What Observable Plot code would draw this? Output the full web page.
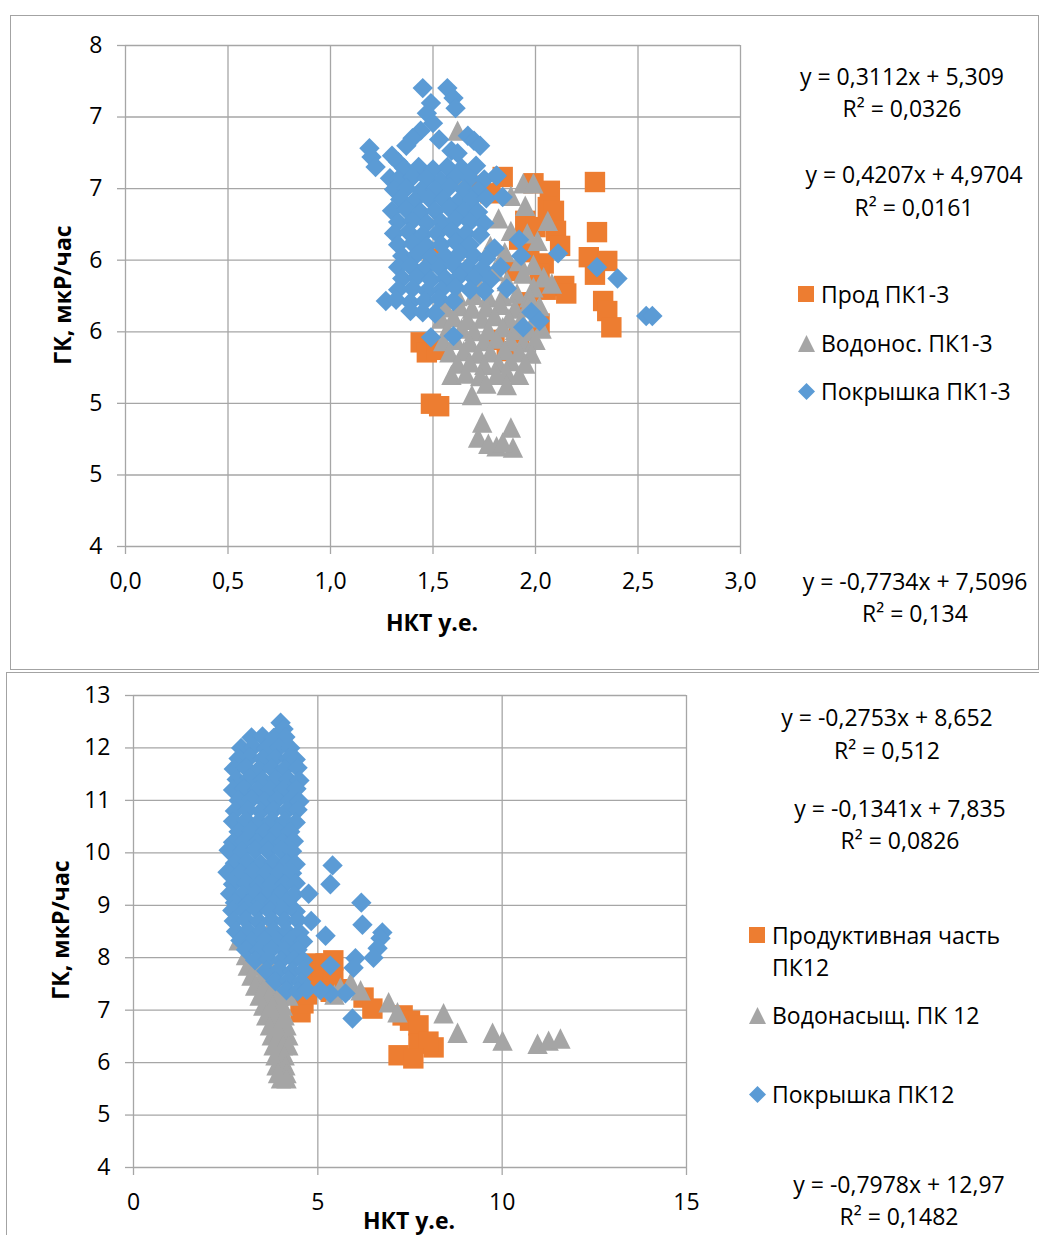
<!DOCTYPE html>
<html>
<head>
<meta charset="utf-8">
<script src="https://cdn.jsdelivr.net/npm/d3@7"></script>
<script src="https://cdn.jsdelivr.net/npm/@observablehq/plot@0.6"></script>
<style>
  body { margin: 0; background: #fff; }
  #page { position: relative; width: 1039px; height: 1235px; overflow: hidden; background: #fff;
          font-family: "Open Sans", sans-serif; color: #000; }
  .frame { position: absolute; box-sizing: border-box; border: 1.3px solid #a3a3a3; }
  .plot { position: absolute; left: 0; }
  .txt { position: absolute; font-size: 23px; line-height: 1; white-space: nowrap; }
  .ctr { transform: translate(-50%, -50%); }
  .lft { transform: translateY(-50%); }
  .ttl { font-weight: bold; }
  .rot { transform: translate(-50%, -50%) rotate(-90deg); }
  .mk { position: absolute; overflow: visible; }
</style>
</head>
<body>
<div id="page">
  <div class="frame" style="left:10px;top:15px;width:1029px;height:655px"></div>
  <div class="frame" style="left:6px;top:672px;width:1060px;height:600px"></div>
  <div class="plot" id="topPlot" style="top:0"></div>
  <div class="plot" id="botPlot" style="top:650px"></div>
</div>
<script>
// ---- Series colours (Office palette) ----
const ORANGE = "#ED7D31", GRAY = "#A5A5A5", BLUE = "#5B9BD5", GRID = "#a6a6a6";

// ---- Upper chart: ПК1-3, [НКТ, ГК] ----
const topProd = [
  [1.84,6.95],[1.99,6.90],[2.07,6.84],[2.06,6.71],[2.09,6.68],[2.10,6.52],[2.12,6.40],[2.04,6.26],
  [2.02,6.18],[2.14,6.08],[2.15,6.02],[2.02,5.78],[1.86,5.56],[2.29,6.91],[2.30,6.51],[2.26,6.31],
  [2.35,6.28],[2.29,6.17],[2.33,5.96],[2.35,5.88],[2.37,5.75],[1.73,6.88],[1.78,6.82],[1.44,5.63],
  [1.47,5.55],[1.52,5.57],[1.49,5.14],[1.53,5.12],[1.50,6.30],[1.95,6.60],[1.92,6.45],[2.00,6.55],
  [1.97,6.35],[1.90,6.20],[2.05,6.05],[1.96,5.95],[1.80,5.65],[1.92,5.70]
];
const topWater = [
  [1.62,7.32],[1.65,6.92],[1.94,6.90],[1.99,6.90],[1.88,6.80],[1.95,6.72],[2.06,6.60],[1.82,6.62],
  [1.88,6.52],[1.96,6.50],[2.01,6.44],[1.78,6.40],[1.85,6.35],[1.92,6.28],[1.99,6.25],[1.80,6.20],
  [1.94,6.18],[2.04,6.15],[1.99,6.07],[2.08,6.10],[1.72,6.10],[1.86,6.12],
  [1.62,6.00],[1.70,6.01],[1.77,5.99],[1.84,6.00],[1.91,6.02],[1.97,5.99],
  [1.56,5.91],[1.63,5.92],[1.69,5.90],[1.76,5.91],[1.83,5.93],[1.90,5.90],[1.96,5.91],[2.02,5.92],
  [1.54,5.82],[1.60,5.83],[1.67,5.81],[1.74,5.82],[1.80,5.84],[1.87,5.82],[1.93,5.81],[2.00,5.83],
  [1.57,5.73],[1.64,5.74],[1.70,5.72],[1.77,5.73],[1.84,5.75],[1.90,5.73],[1.97,5.72],[2.03,5.74],
  [1.55,5.64],[1.61,5.65],[1.68,5.63],[1.75,5.64],[1.81,5.66],[1.88,5.64],[1.94,5.63],[2.00,5.65],
  [1.58,5.55],[1.65,5.56],[1.72,5.54],[1.78,5.55],[1.85,5.57],[1.92,5.55],[1.98,5.54],
  [1.62,5.46],[1.68,5.47],[1.75,5.45],[1.82,5.46],[1.88,5.48],[1.95,5.46],
  [1.59,5.37],[1.66,5.38],[1.73,5.36],[1.81,5.37],[1.86,5.39],[1.92,5.37],
  [1.69,5.21],[1.86,5.29],[1.76,5.30],
  [1.74,4.99],[1.72,4.87],[1.77,4.82],[1.81,4.80],[1.88,4.95],[1.89,4.79],[1.84,4.83]
];
const topCap = [
  [1.45,7.66],[1.57,7.66],[1.60,7.58],[1.49,7.54],[1.61,7.50],[1.47,7.46],[1.50,7.38],[1.44,7.32],
  [1.40,7.26],[1.67,7.28],[1.70,7.24],[1.73,7.20],[1.59,7.16],[1.62,7.14],[1.37,7.20],[1.53,7.25],
  [1.19,7.18],[1.20,7.11],[1.22,7.03],[1.30,7.12],[1.33,7.07],
  [1.36,7.02],[1.43,7.03],[1.50,7.01],[1.57,7.03],[1.64,7.02],[1.71,7.04],
  [1.29,6.94],[1.33,6.93],[1.40,6.95],[1.47,6.94],[1.54,6.92],[1.61,6.95],[1.68,6.94],[1.75,6.93],[1.81,6.96],
  [1.31,6.85],[1.37,6.86],[1.44,6.84],[1.51,6.85],[1.58,6.87],[1.65,6.85],[1.72,6.84],
  [1.34,6.77],[1.41,6.76],[1.48,6.78],[1.55,6.77],[1.62,6.75],[1.69,6.77],[1.76,6.78],[1.84,6.79],
  [1.30,6.68],[1.37,6.69],[1.44,6.67],[1.51,6.68],[1.58,6.70],[1.65,6.68],[1.72,6.67],
  [1.33,6.59],[1.40,6.60],[1.47,6.58],[1.54,6.59],[1.61,6.61],[1.68,6.59],[1.75,6.58],
  [1.31,6.50],[1.38,6.51],[1.45,6.49],[1.52,6.50],[1.59,6.52],[1.66,6.50],[1.73,6.49],
  [1.33,6.41],[1.40,6.42],[1.47,6.40],[1.54,6.41],[1.61,6.43],[1.68,6.41],[1.80,6.38],
  [1.35,6.32],[1.42,6.33],[1.49,6.31],[1.56,6.32],[1.63,6.34],[1.70,6.32],[1.76,6.30],[1.93,6.32],
  [1.33,6.23],[1.39,6.24],[1.46,6.22],[1.53,6.23],[1.60,6.25],[1.67,6.23],[1.74,6.22],[1.83,6.23],
  [1.35,6.14],[1.42,6.15],[1.49,6.13],[1.56,6.14],[1.63,6.16],[1.70,6.14],[1.78,6.13],
  [1.33,6.05],[1.40,6.06],[1.47,6.04],[1.54,6.05],[1.61,6.07],[1.68,6.05],[1.75,6.04],[1.86,6.06],
  [1.27,5.96],[1.32,5.97],[1.39,5.95],[1.46,5.96],[1.53,5.98],[1.60,5.96],
  [1.39,5.88],[1.45,5.87],[1.51,5.86],
  [1.49,5.67],[1.60,5.68],[1.81,6.96],[1.92,6.45],[2.11,6.34],[1.98,5.87],[2.02,5.80],[1.94,5.75],
  [2.30,6.23],[2.40,6.14],[2.54,5.84],[2.57,5.84]
];
const topXTicks = [0, 0.5, 1, 1.5, 2, 2.5, 3];
const topYTicks = [4, 4.571, 5.143, 5.714, 6.286, 6.857, 7.429, 8];
const topYLabels = ["4", "5", "5", "6", "6", "7", "7", "8"];
const topLegend = ["Прод ПК1-3", "Водонос. ПК1-3", "Покрышка ПК1-3"];
const topTrend = ["y = 0,3112x + 5,309", "R² = 0,0326", "y = 0,4207x + 4,9704", "R² = 0,0161",
                  "y = -0,7734x + 7,5096", "R² = 0,134"];

// ---- Lower chart: ПК12, [НКТ, ГК] ----
const botProd = [
  [4.53,6.96],[4.61,7.13],[4.70,7.30],[4.86,7.89],[4.95,7.70],[5.10,7.50],[5.21,7.89],[5.29,7.62],
  [5.42,7.95],[5.42,7.62],[5.35,7.35],[4.85,7.45],[5.60,7.40],[6.24,7.24],[6.48,7.03],[7.30,6.90],
  [7.50,6.80],[7.73,6.71],[7.73,6.36],[8.14,6.29],[8.00,6.40],[7.19,6.14],[7.59,6.08]
];
const botWater = [
  [2.85,8.33],[3.66,8.52],[3.45,8.00],
  [3.05,8.05],[3.35,8.05],[3.10,7.85],[3.40,7.85],[3.70,7.85],[3.20,7.66],[3.50,7.66],[3.80,7.66],
  [3.30,7.47],[3.58,7.47],[3.85,7.47],[4.15,7.47],[3.42,7.28],[3.68,7.28],[3.95,7.28],[4.20,7.28],
  [3.52,7.09],[3.78,7.09],[4.05,7.09],[3.60,6.90],[3.85,6.90],[4.10,6.90],[3.70,6.71],[3.95,6.71],
  [4.15,6.71],[3.75,6.52],[4.00,6.52],[4.20,6.52],[3.80,6.33],[4.05,6.33],[4.20,6.33],[3.85,6.14],
  [4.10,6.14],[3.88,5.95],[4.12,5.95],[3.92,5.80],[4.15,5.80],[4.00,5.70],[4.15,5.70],
  [5.45,7.30],[5.61,7.43],[5.89,7.53],[6.16,7.38],[6.92,7.15],[7.16,6.96],[8.41,6.94],[8.79,6.57],
  [9.74,6.57],[10.01,6.42],[10.96,6.36],[11.26,6.42],[11.58,6.46]
];
const botCap = [
  [3.99,12.48],[4.07,12.36],
  [3.20,12.20],[3.50,12.22],[3.80,12.19],[4.12,12.21],
  [2.92,12.00],[3.25,12.02],[3.60,11.99],[3.95,12.01],[4.25,12.00],
  [2.85,11.80],[3.15,11.82],[3.50,11.79],[3.85,11.81],[4.20,11.80],[4.40,11.78],
  [2.72,11.60],[3.05,11.62],[3.40,11.59],[3.75,11.61],[4.10,11.60],[4.45,11.62],
  [2.80,11.40],[3.15,11.42],[3.50,11.39],[3.85,11.41],[4.20,11.40],[4.50,11.38],
  [2.70,11.20],[3.00,11.22],[3.35,11.19],[3.70,11.21],[4.05,11.20],[4.42,11.22],
  [2.85,11.00],[3.20,11.02],[3.55,10.99],[3.90,11.01],[4.25,11.00],[4.50,10.98],
  [2.75,10.80],[3.10,10.82],[3.45,10.79],[3.80,10.81],[4.15,10.80],[4.45,10.82],
  [2.70,10.60],[3.05,10.62],[3.40,10.59],[3.75,10.61],[4.10,10.60],[4.40,10.58],
  [2.85,10.40],[3.20,10.42],[3.55,10.39],[3.90,10.41],[4.25,10.40],
  [2.70,10.20],[3.00,10.22],[3.35,10.19],[3.70,10.21],[4.05,10.20],[4.35,10.22],
  [2.58,10.05],[2.95,10.03],[3.30,10.06],[3.65,10.04],[4.00,10.05],[4.30,10.03],
  [2.75,9.80],[3.10,9.82],[3.45,9.79],[3.80,9.81],[4.15,9.80],[4.40,9.78],
  [2.55,9.63],[2.90,9.61],[3.25,9.64],[3.60,9.62],[3.95,9.63],[4.30,9.61],
  [2.70,9.40],[3.05,9.42],[3.40,9.39],[3.75,9.41],[4.10,9.40],[4.40,9.42],
  [2.62,9.22],[2.95,9.20],[3.30,9.23],[3.65,9.21],[4.00,9.22],[4.35,9.20],[4.75,9.22],
  [2.75,9.05],[3.10,9.03],[3.45,9.06],[3.80,9.04],[4.15,9.05],
  [2.68,8.90],[3.00,8.88],[3.35,8.91],[3.70,8.89],[4.05,8.90],[4.40,8.88],
  [2.72,8.70],[3.05,8.72],[3.40,8.69],[3.75,8.71],[4.10,8.70],[4.45,8.72],[4.82,8.70],
  [2.78,8.50],[3.10,8.52],[3.45,8.49],[3.80,8.51],[4.15,8.50],[4.50,8.48],
  [2.90,8.33],[3.20,8.31],[3.55,8.34],[3.90,8.32],[4.25,8.33],[4.60,8.31],
  [3.05,8.15],[3.40,8.13],[3.75,8.16],[4.10,8.14],[4.45,8.15],
  [3.30,7.95],[3.65,7.97],[4.00,7.94],[4.35,7.96],[4.60,7.95],
  [3.60,7.75],[3.95,7.77],[4.30,7.74],[4.62,7.76],
  [3.85,7.55],[4.20,7.57],[4.55,7.54],
  [4.15,7.38],[4.45,7.36],[4.70,7.39],
  [5.40,9.76],[5.34,9.40],[5.21,8.42],[6.18,9.05],[6.21,8.63],[6.75,8.48],[6.70,8.37],[6.62,8.18],
  [6.51,8.00],[6.02,7.99],[5.97,7.81],[5.34,7.85],[5.75,7.32],[5.34,7.32],[5.94,6.84],[5.07,7.38]
];
const botXTicks = [0, 5, 10, 15];
const botYTicks = [4, 5, 6, 7, 8, 9, 10, 11, 12, 13];
const botLegend = ["Продуктивная часть", "ПК12", "Водонасыщ. ПК 12", "Покрышка ПК12"];
const botTrend = ["y = -0,2753x + 8,652", "R² = 0,512", "y = -0,1341x + 7,835", "R² = 0,0826",
                  "y = -0,7978x + 12,97", "R² = 0,1482"];

// ---- Marker shapes: square, triangle and diamond of equal extent ----
const half = size => Math.sqrt(size / Math.PI);
const squareSym = { draw(c, s) { const h = half(s); c.rect(-h, -h, 2 * h, 2 * h); } };
const triangleSym = { draw(c, s) { const h = half(s); c.moveTo(0, -h); c.lineTo(h, h); c.lineTo(-h, h); c.closePath(); } };
const diamondSym = { draw(c, s) { const h = half(s); c.moveTo(0, -h); c.lineTo(h, 0); c.lineTo(0, h); c.lineTo(-h, 0); c.closePath(); } };
const R = 10.2;

const commaFmt = d => d.toFixed(1).replace(".", ",");

function scatter({width, height, margin, xDomain, yDomain, xTicks, yTicks, xFmt, yFmt, series}) {
  return Plot.plot({
    width, height,
    marginLeft: margin[0], marginRight: margin[1], marginTop: margin[2], marginBottom: margin[3],
    style: { fontFamily: "Open Sans, sans-serif", background: "transparent", overflow: "visible", color: "#000" },
    x: { domain: xDomain },
    y: { domain: yDomain },
    marks: [
      Plot.gridX(xTicks, { stroke: GRID, strokeOpacity: 1, strokeWidth: 1.3 }),
      Plot.gridY(yTicks, { stroke: GRID, strokeOpacity: 1, strokeWidth: 1.3 }),
      Plot.axisX({ ticks: xTicks, tickFormat: xFmt, tickSize: 8, tickPadding: 18, stroke: GRID,
                   strokeWidth: 1.3, fill: "#000", fontSize: 23, label: null }),
      Plot.axisY({ ticks: yTicks, tickFormat: yFmt, tickSize: 8, tickPadding: 15, stroke: GRID,
                   strokeWidth: 1.3, fill: "#000", fontSize: 23, label: null }),
      ...series.map(([data, sym, fill]) =>
        Plot.dot(data, { x: d => d[0], y: d => d[1], r: R, symbol: sym, fill, stroke: "none" }))
    ]
  });
}

document.getElementById("topPlot").append(scatter({
  width: 760, height: 610, margin: [125, 20, 45, 64],
  xDomain: [0, 3], yDomain: [4, 8], xTicks: topXTicks, yTicks: topYTicks,
  xFmt: commaFmt, yFmt: d => topYLabels[topYTicks.indexOf(d)],
  series: [[topProd, squareSym, ORANGE], [topWater, triangleSym, GRAY], [topCap, diamondSym, BLUE]]
}));

document.getElementById("botPlot").append(scatter({
  width: 700, height: 585, margin: [133, 14, 45, 68],
  xDomain: [0, 15], yDomain: [4, 13], xTicks: botXTicks, yTicks: botYTicks,
  xFmt: d => String(d), yFmt: d => String(d),
  series: [[botProd, squareSym, ORANGE], [botWater, triangleSym, GRAY], [botCap, diamondSym, BLUE]]
}));

// ---- Text overlays: trend-line equations, legends, axis titles ----
const page = document.getElementById("page");
function addText(str, x, y, cls) {
  const el = document.createElement("div");
  el.className = "txt " + cls;
  el.style.left = x + "px";
  el.style.top = y + "px";
  el.textContent = str;
  page.append(el);
}
function addMarker(sym, fill, x, y, s) {
  const ns = "http://www.w3.org/2000/svg";
  const svg = document.createElementNS(ns, "svg");
  svg.setAttribute("class", "mk");
  svg.setAttribute("width", s);
  svg.setAttribute("height", s);
  svg.style.left = (x - s / 2) + "px";
  svg.style.top = (y - s / 2) + "px";
  const p = document.createElementNS(ns, "path");
  p.setAttribute("d", d3.symbol(sym, Math.PI * (s / 2) ** 2)());
  p.setAttribute("transform", `translate(${s / 2},${s / 2})`);
  p.setAttribute("fill", fill);
  svg.append(p);
  page.append(svg);
}

// upper chart
[[902, 76], [902, 108], [914, 174], [914, 207], [915, 581], [915, 613]]
  .forEach(([x, y], i) => addText(topTrend[i], x, y, "ctr"));
addMarker(squareSym, ORANGE, 806, 294, 16);
addMarker(triangleSym, GRAY, 806, 343, 17);
addMarker(diamondSym, BLUE, 806, 391, 17);
addText(topLegend[0], 821, 294, "lft");
addText(topLegend[1], 821, 343, "lft");
addText(topLegend[2], 821, 391, "lft");
addText("НКТ у.е.", 432, 622, "ctr ttl");
addText("ГК, мкР/час", 62, 295, "rot ttl");

// lower chart
[[887, 717], [887, 750], [900, 808], [900, 840], [899, 1184], [899, 1216]]
  .forEach(([x, y], i) => addText(botTrend[i], x, y, "ctr"));
addMarker(squareSym, ORANGE, 757, 935, 16);
addMarker(triangleSym, GRAY, 757, 1015, 17);
addMarker(diamondSym, BLUE, 757, 1094, 17);
addText(botLegend[0], 772, 935, "lft");
addText(botLegend[1], 772, 967, "lft");
addText(botLegend[2], 772, 1015, "lft");
addText(botLegend[3], 772, 1094, "lft");
addText("НКТ у.е.", 409, 1220, "ctr ttl");
addText("ГК, мкР/час", 60, 930, "rot ttl");
</script>
</body>
</html>
